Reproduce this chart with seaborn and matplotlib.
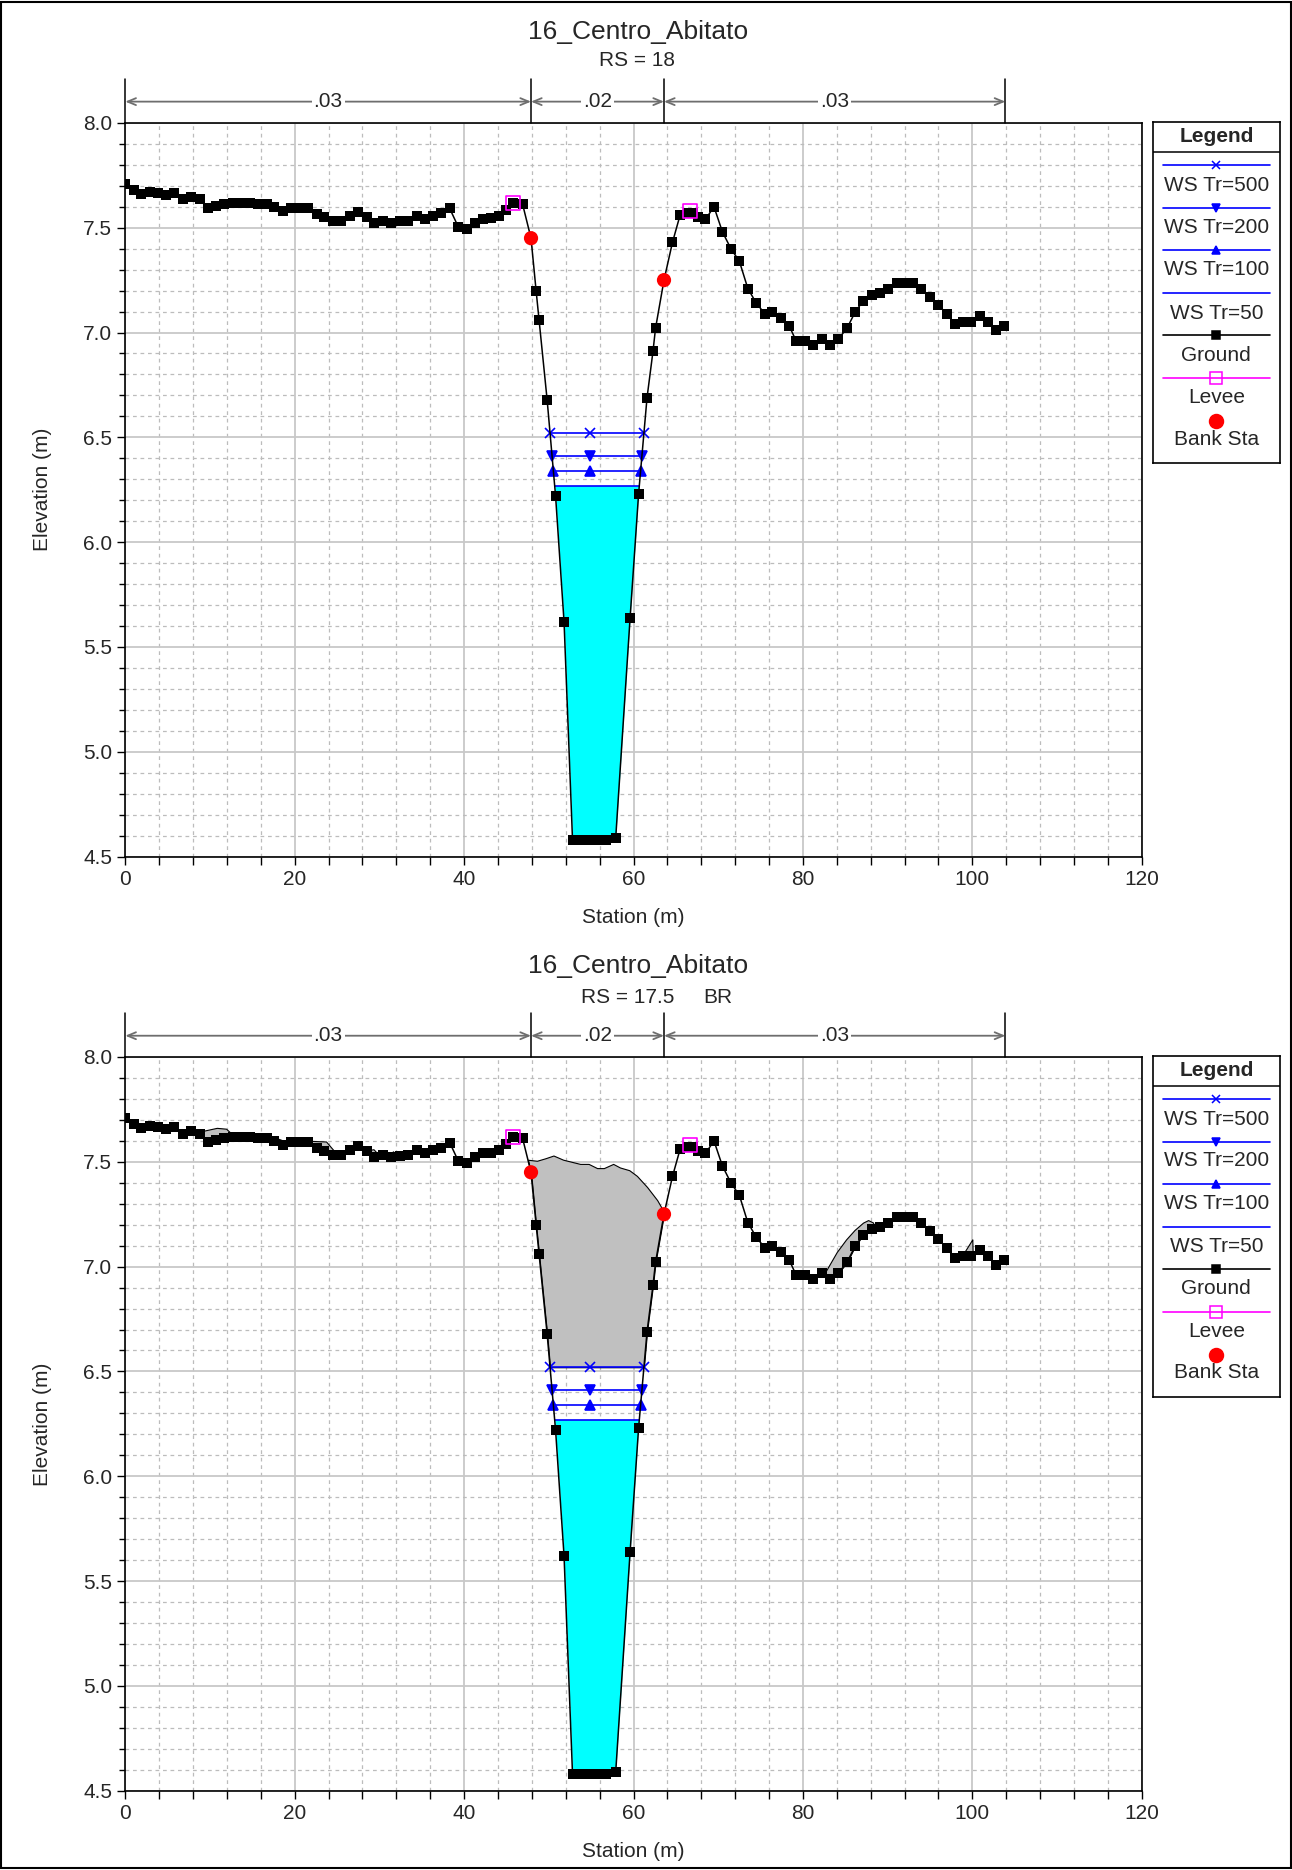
import numpy as np
import matplotlib
matplotlib.use("Agg")
import matplotlib.pyplot as plt
import matplotlib.patches as mpatches
from matplotlib.ticker import MultipleLocator
from matplotlib.transforms import blended_transform_factory
import seaborn as sns

ground_sta = [0, 1.0, 1.9, 2.9, 3.9, 4.8, 5.8, 6.8, 7.8, 8.8, 9.8, 10.7, 11.7, 12.7, 13.7,
              14.7, 15.7, 16.7, 17.6, 18.6, 19.6, 20.6, 21.6, 22.6, 23.5, 24.5, 25.5, 26.5,
              27.5, 28.5, 29.4, 30.4, 31.4, 32.4, 33.4, 34.4, 35.4, 36.3, 37.3, 38.3, 39.3,
              40.3, 41.3, 42.2, 43.2, 44.1, 45.0, 45.8, 46.9, 47.9, 48.5, 48.85, 49.8, 50.8,
              51.8, 52.8, 53.6, 54.4, 55.2, 56.0, 56.8, 57.9, 59.6, 60.6, 61.6, 62.3, 62.6,
              63.6, 64.6, 65.5, 66.4, 67.0, 67.6, 68.5, 69.5, 70.5, 71.5, 72.5, 73.5, 74.5,
              75.5, 76.4, 77.4, 78.4, 79.2, 80.2, 81.2, 82.2, 83.2, 84.2, 85.2, 86.2, 87.1,
              88.1, 89.1, 90.1, 91.1, 92.0, 93.0, 94.0, 95.0, 96.0, 97.0, 97.9, 98.9, 99.9,
              100.9, 101.9, 102.8, 103.8]
ground_elev = [7.71, 7.68, 7.66, 7.67, 7.665, 7.655, 7.665, 7.635, 7.645, 7.635, 7.595, 7.605,
               7.615, 7.62, 7.62, 7.62, 7.615, 7.612, 7.597, 7.582, 7.594, 7.594, 7.594, 7.565,
               7.552, 7.533, 7.533, 7.556, 7.576, 7.552, 7.524, 7.533, 7.524, 7.530, 7.533,
               7.556, 7.543, 7.556, 7.568, 7.592, 7.505, 7.492, 7.524, 7.543, 7.544, 7.556,
               7.584, 7.62, 7.613, 7.45, 7.20, 7.06, 6.68, 6.22, 5.62, 4.58, 4.58, 4.58, 4.58,
               4.58, 4.58, 4.59, 5.64, 6.23, 6.69, 6.91, 7.02, 7.25, 7.43, 7.56, 7.57, 7.57,
               7.55, 7.54, 7.60, 7.48, 7.40, 7.34, 7.21, 7.14, 7.09, 7.10, 7.07, 7.03, 6.96,
               6.96, 6.94, 6.97, 6.94, 6.97, 7.02, 7.10, 7.15, 7.18, 7.19, 7.21, 7.235, 7.235,
               7.235, 7.21, 7.17, 7.13, 7.09, 7.04, 7.05, 7.05, 7.08, 7.05, 7.01, 7.03]

bank_sta = [47.9, 63.6]
bank_elev = [7.45, 7.25]
levee_sta = [45.8, 66.7]
levee_elev = [7.62, 7.58]

ws_labels = ["WS Tr=500", "WS Tr=200", "WS Tr=100", "WS Tr=50"]
ws_elev = [6.52, 6.41, 6.34, 6.27]
ws_mid_sta = 54.9

n_sta = [0, 47.9, 63.6, 103.9]
n_val = [".03", ".02", ".03"]

# bridge deck (high chord pieces) for RS 17.5 BR
deck_x = [[9.2, 10.8, 11.9, 12.7],
          [16.9, 17.6, 18.6, 19.2],
          [21.8, 23.7, 24.8],
          [28.6, 29.3, 30.0],
          [31.0, 31.6, 32.2],
          [47.5, 48.6, 49.6, 50.55, 51.7, 52.7, 53.7, 54.7, 55.7, 56.5, 57.6, 58.4, 59.5,
           60.4, 61.6, 62.8, 63.6],
          [82.5, 84.0, 85.1, 86.1, 87.1, 87.7, 88.3],
          [98.6, 100.0, 100.05]]
deck_y = [[7.648, 7.662, 7.658, 7.628],
          [7.622, 7.617, 7.602, 7.59],
          [7.600, 7.597, 7.545],
          [7.555, 7.560, 7.53],
          [7.525, 7.550, 7.533],
          [7.51, 7.505, 7.517, 7.53, 7.51, 7.50, 7.49, 7.49, 7.47, 7.47, 7.49, 7.473, 7.46,
           7.433, 7.38, 7.317, 7.26],
          [6.965, 7.07, 7.13, 7.175, 7.21, 7.222, 7.21],
          [7.04, 7.13, 7.05]]
low_chord = 6.52

sns.set_style("white")
plt.rcParams["font.family"] = ["Liberation Sans", "DejaVu Sans"]

gs = np.array(ground_sta)
ge = np.array(ground_elev)
ileft = np.arange(gs.size)[(gs >= 47.9) & (gs <= 52.8)]
iright = np.arange(gs.size)[(gs >= 57.9) & (gs <= 63.6)]


def ws_edges(z):
    xl = np.interp(z, ge[ileft][::-1], gs[ileft][::-1])
    xr = np.interp(z, ge[iright], gs[iright])
    return xl, xr


def draw_section(ax, bridge):
    ax.set_xlim(0, 120)
    ax.set_ylim(4.5, 8.0)
    ax.xaxis.set_major_locator(MultipleLocator(20))
    ax.xaxis.set_minor_locator(MultipleLocator(4))
    ax.yaxis.set_major_locator(MultipleLocator(0.5))
    ax.yaxis.set_minor_locator(MultipleLocator(0.1))
    ax.yaxis.set_major_formatter(matplotlib.ticker.FormatStrFormatter("%.1f"))
    ax.grid(which="major", color="#c8c8c8", lw=1.3, ls="-")
    ax.grid(which="minor", color="#bcbcbc", lw=0.9, ls=(0, (3, 3)))
    ax.set_axisbelow(True)
    ax.tick_params(which="both", direction="out", labelsize=15, color="black",
                   left=True, bottom=True)
    ax.tick_params(which="major", length=6, width=1)
    ax.tick_params(axis="x", which="minor", length=6, width=1)
    ax.tick_params(axis="y", which="minor", length=4.5, width=1)
    for sp in ax.spines.values():
        sp.set_color("black")
        sp.set_linewidth(1.2)
    ax.set_xlabel("Station (m)", fontsize=15, labelpad=14)
    ax.set_ylabel("Elevation (m)", fontsize=15, labelpad=22)

    # WS Tr=50 water fill
    ax.fill_between(gs, ge, ws_elev[3], where=ge < ws_elev[3], interpolate=True,
                    color="#00ffff", lw=0, zorder=2)

    if bridge:
        for hx, hy in zip(deck_x, deck_y):
            xs = list(hx) + [s for s in ground_sta if hx[0] < s < hx[-1]]
            lo_pts = []
            if hx[0] < 50 < hx[-1]:
                lo_pts = list(ws_edges(low_chord))
                xs += lo_pts
            xs = np.array(sorted(xs))
            upper = np.interp(xs, hx, hy)
            lower = np.interp(xs, gs, ge)
            if lo_pts:
                inside = (xs >= lo_pts[0] - 1e-9) & (xs <= lo_pts[1] + 1e-9)
                lower = np.where(inside, np.maximum(lower, low_chord), lower)
            ax.fill_between(xs, lower, upper, where=upper >= lower, interpolate=True,
                            facecolor="#c0c0c0", edgecolor="black", lw=0.8, zorder=3)

    markers = ["x", "v", "^", None]
    for z, m in zip(ws_elev, markers):
        xl, xr = ws_edges(z)
        ax.plot([xl, xr], [z, z], color="blue", lw=1.2, zorder=4)
        if m:
            ax.plot([xl, ws_mid_sta, xr], [z, z, z], ls="none", marker=m, color="blue",
                    markersize=7, markeredgewidth=1.2, zorder=4)

    sns.lineplot(x=ground_sta, y=ground_elev, ax=ax, color="black", lw=1.1, marker="s",
                 markersize=7, markeredgewidth=0, sort=False, zorder=5)
    sns.scatterplot(x=levee_sta, y=levee_elev, ax=ax, marker="s", s=100,
                    facecolor="none", edgecolor="#ff00ff", linewidth=1.2, zorder=6)
    sns.scatterplot(x=bank_sta, y=bank_elev, ax=ax, color="red", s=105,
                    edgecolor="none", zorder=6)

    # Manning's n bar above the plot
    tr = blended_transform_factory(ax.transData, ax.transAxes)
    ytop = 1.06
    yarr = 1.029
    for s in n_sta:
        ax.plot([s, s], [1.0, ytop], transform=tr, color="black", lw=1.1, clip_on=False)
    for i, lab in enumerate(n_val):
        ax.annotate("", xy=(n_sta[i], yarr), xytext=(n_sta[i + 1], yarr), xycoords=tr,
                    textcoords=tr, annotation_clip=False,
                    arrowprops=dict(arrowstyle="<->,head_length=0.6,head_width=0.25",
                                    color="#6e6e6e", lw=1.3, shrinkA=0, shrinkB=0))
        ax.text((n_sta[i] + n_sta[i + 1]) / 2, yarr, lab, transform=tr, ha="center",
                va="center", fontsize=15, zorder=10,
                bbox=dict(facecolor="white", edgecolor="none", pad=1.5))


def draw_legend(top_px):
    w = 127.3
    h = 341.3
    lax = fig.add_axes([1152.7 / 1292, 1 - (top_px + h) / 1870, w / 1292, h / 1870])
    lax.set_xlim(0, w)
    lax.set_ylim(h, 0)
    lax.set_xticks([])
    lax.set_yticks([])
    lax.set_facecolor("white")
    for sp in lax.spines.values():
        sp.set_color("black")
        sp.set_linewidth(1.2)
    lax.text(w / 2, 14, "Legend", ha="center", va="center", fontsize=15, fontweight="bold")
    lax.plot([0, w], [29.7, 29.7], color="black", lw=1.1)
    entries = [("WS Tr=500", "blue", "x", "blue"),
               ("WS Tr=200", "blue", "v", "blue"),
               ("WS Tr=100", "blue", "^", "blue"),
               ("WS Tr=50", "blue", None, None),
               ("Ground", "black", "s", "black"),
               ("Levee", "#ff00ff", "s", "none"),
               ("Bank Sta", None, "o", "red")]
    line_y = [43, 85.7, 128, 170.7, 213, 256, 298.7]
    text_y = [63.5, 105, 147.5, 191, 233, 275.5, 317]
    for (lab, lc, m, mfc), ly, ty in zip(entries, line_y, text_y):
        if lc:
            lax.plot([10, w - 10], [ly, ly], color=lc, lw=1.2)
        if m:
            size = {"x": 6, "v": 6, "^": 6, "s": 6, "o": 10}[m]
            if lab == "Levee":
                size = 9
            mec = "red" if m == "o" else (lc if lc else "black")
            lax.plot([w / 2], [ly], marker=m, markersize=size, color=mec,
                     markerfacecolor=mfc, markeredgecolor=mec, markeredgewidth=1.1, ls="none")
        lax.text(w / 2, ty, lab, ha="center", va="center", fontsize=15)


fig = plt.figure(figsize=(12.92, 18.70), dpi=100)
left = 125.3 / 1292
width = (1141.7 - 125.3) / 1292
ax1 = fig.add_axes([left, 1 - 856.6 / 1870, width, (856.6 - 122.9) / 1870])
ax2 = fig.add_axes([left, 1 - 1790.7 / 1870, width, (1790.7 - 1057.0) / 1870])

draw_section(ax1, bridge=False)
draw_section(ax2, bridge=True)
draw_legend(122.0)
draw_legend(1056.0)

fig.text(638 / 1292, 1 - 32 / 1870, "16_Centro_Abitato", ha="center", va="center", fontsize=19)
fig.text(637 / 1292, 1 - 60 / 1870, "RS = 18", ha="center", va="center", fontsize=15)
fig.text(638 / 1292, 1 - 966 / 1870, "16_Centro_Abitato", ha="center", va="center", fontsize=19)
fig.text(627.5 / 1292, 1 - 997 / 1870, "RS = 17.5", ha="center", va="center", fontsize=15)
fig.text(718 / 1292, 1 - 997 / 1870, "BR", ha="center", va="center", fontsize=15)

fig.patches.append(mpatches.Rectangle((0.001, 0.001), 0.998, 0.998, transform=fig.transFigure,
                                      fill=False, edgecolor="black", lw=1.5))

fig.savefig("out.png", dpi=100)
